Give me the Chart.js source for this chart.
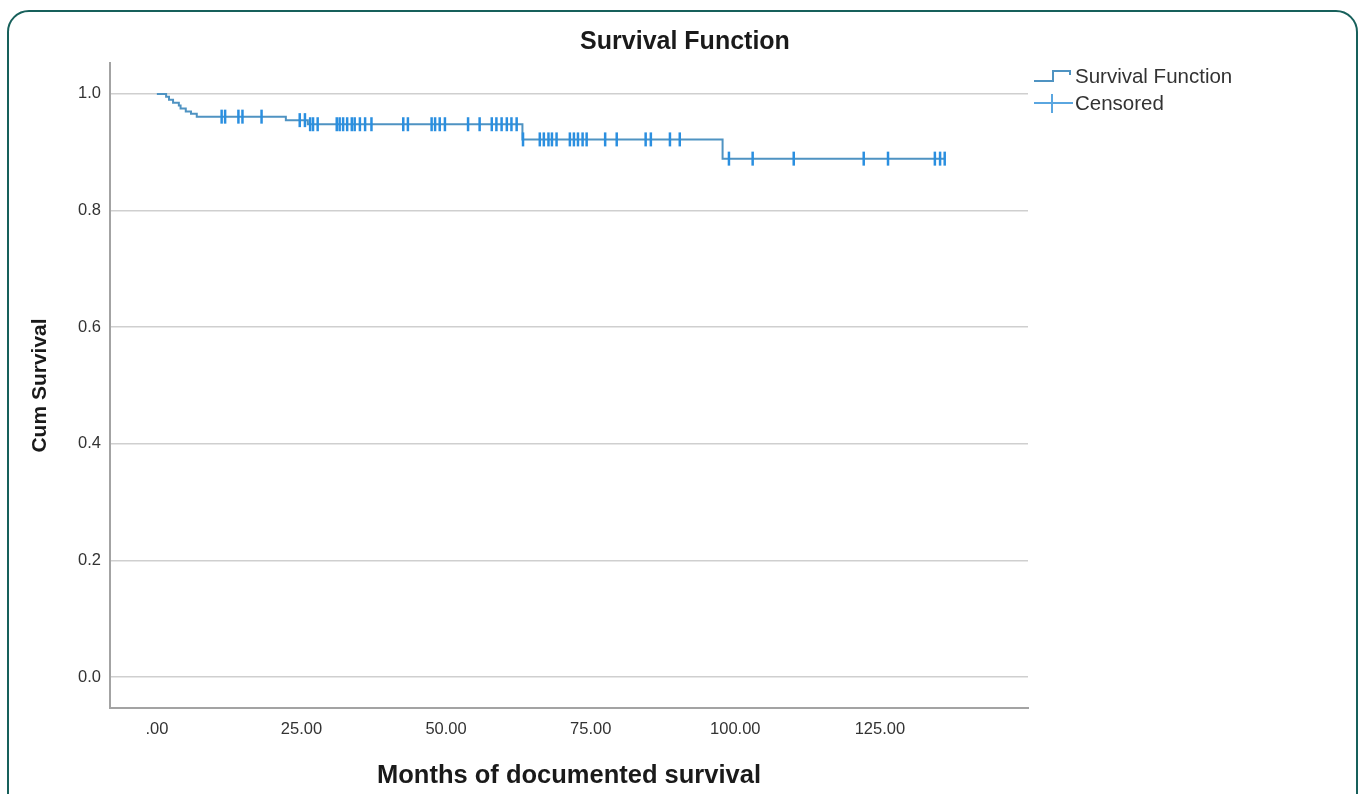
<!DOCTYPE html>
<html>
<head>
<meta charset="utf-8">
<script src="https://cdn.jsdelivr.net/npm/chart.js@4/dist/chart.umd.min.js"></script>
<style>
  html, body { margin: 0; padding: 0; background: #ffffff; overflow: hidden; }
  #wrap { position: relative; width: 1368px; height: 794px; }
  #frame { position: absolute; left: 7px; top: 10px; width: 1351px; height: 820px;
           border: 2.5px solid #17605b; border-radius: 22px; box-sizing: border-box; pointer-events: none; }
  canvas { position: absolute; left: 0; top: 0; }
</style>
</head>
<body>
<div id="wrap">
  <canvas id="c" width="1368" height="794"></canvas>
  <div id="frame"></div>
</div>
<script>
// ---- data ----
const chartTitle = "Survival Function";
const xAxisTitle = "Months of documented survival";
const yAxisTitle = "Cum Survival";
const legendLabels = ["Survival Function", "Censored"];

const eventTimes = [0, 1.6, 2.1, 2.8, 3.8, 4.1, 5.0, 5.9, 6.9, 22.3, 26.1, 63.2, 97.8, 136.2];
const survival   = [1.0, 0.995, 0.990, 0.985, 0.980, 0.975, 0.970, 0.966, 0.961, 0.955, 0.948, 0.922, 0.889, 0.889];

const censorTimes = [11.2, 11.8, 14.1, 14.8, 18.1, 24.7, 25.6, 26.5, 27.0, 27.8, 31.1,
  31.6, 32.2, 32.9, 33.7, 34.2, 35.1, 36.0, 37.1, 42.6, 43.4, 47.5, 48.1, 48.9, 49.8,
  53.8, 55.8, 57.9, 58.7, 59.6, 60.5, 61.3, 62.2, 63.3, 66.2, 66.9, 67.7, 68.3, 69.1,
  71.4, 72.1, 72.8, 73.6, 74.3, 77.5, 79.5, 84.5, 85.4, 88.7, 90.4, 98.9, 103.0,
  110.1, 122.2, 126.4, 134.5, 135.4, 136.2];

const xTicks = [0, 25, 50, 75, 100, 125];
const xTickLabels = [".00", "25.00", "50.00", "75.00", "100.00", "125.00"];
const yTicks = [0, 0.2, 0.4, 0.6, 0.8, 1.0];
const yTickLabels = ["0.0", "0.2", "0.4", "0.6", "0.8", "1.0"];

// ---- build library structures ----
const survPoints = eventTimes.map((t, i) => ({ x: t, y: survival[i] }));
function survAt(t) {
  let v = survival[0];
  for (let i = 0; i < eventTimes.length; i++) { if (eventTimes[i] <= t) v = survival[i]; }
  return v;
}
const censorPoints = censorTimes.map(t => ({ x: t, y: survAt(t) }));

const LINE_COLOR = "#4f93c2";
const CENSOR_COLOR = "#2a8fe0";
const FONT = "'Liberation Sans', Arial, sans-serif";

const decorPlugin = {
  id: "decor",
  afterDraw(chart) {
    const ctx = chart.ctx;
    const ca = chart.chartArea;
    ctx.save();
    // title
    ctx.fillStyle = "#1a1a1a";
    ctx.textAlign = "center";
    ctx.textBaseline = "middle";
    ctx.font = "bold 25px " + FONT;
    ctx.fillText(chartTitle, 685, 42);
    // x axis title
    ctx.font = "bold 25.5px " + FONT;
    ctx.fillText(xAxisTitle, (ca.left + ca.right) / 2, 776);
    // y axis title
    ctx.save();
    ctx.translate(40, (ca.top + ca.bottom) / 2);
    ctx.rotate(-Math.PI / 2);
    ctx.font = "bold 21px " + FONT;
    ctx.fillText(yAxisTitle, 0, 0);
    ctx.restore();

    // legend
    ctx.lineWidth = 2;
    ctx.strokeStyle = LINE_COLOR;
    ctx.beginPath();
    ctx.moveTo(1034, 81);
    ctx.lineTo(1053, 81);
    ctx.lineTo(1053, 71);
    ctx.lineTo(1070, 71);
    ctx.lineTo(1070, 75);
    ctx.stroke();
    ctx.strokeStyle = "#5aa6e0";
    ctx.beginPath();
    ctx.moveTo(1034, 103);
    ctx.lineTo(1073, 103);
    ctx.moveTo(1052, 94);
    ctx.lineTo(1052, 113);
    ctx.stroke();
    ctx.fillStyle = "#333333";
    ctx.textAlign = "left";
    ctx.font = "20.5px " + FONT;
    ctx.fillText(legendLabels[0], 1075, 77);
    ctx.fillText(legendLabels[1], 1075, 104);
    ctx.restore();
  }
};

new Chart(document.getElementById("c"), {
  type: "line",
  data: {
    datasets: [
      {
        label: legendLabels[1],
        type: "scatter",
        data: censorPoints,
        pointStyle: "line",
        rotation: 90,
        pointRadius: 7,
        pointHoverRadius: 7,
        pointBorderWidth: 2.5,
        borderColor: CENSOR_COLOR,
        backgroundColor: CENSOR_COLOR,
        showLine: false,
        order: 0
      },
      {
        label: legendLabels[0],
        data: survPoints,
        stepped: "before",
        borderColor: LINE_COLOR,
        borderWidth: 2,
        pointRadius: 0,
        fill: false,
        order: 1
      }
    ]
  },
  options: {
    responsive: false,
    animation: false,
    devicePixelRatio: 1,
    layout: { padding: { left: 0, top: 63, right: 340, bottom: 0 } },
    plugins: { legend: { display: false }, title: { display: false }, tooltip: { enabled: false } },
    events: [],
    scales: {
      x: {
        type: "linear",
        min: -8.1,
        max: 150.6,
        afterBuildTicks(scale) { scale.ticks = xTicks.map(v => ({ value: v })); },
        afterFit(scale) { scale.height = 86; },
        ticks: {
          callback(v) { const i = xTicks.indexOf(v); return i >= 0 ? xTickLabels[i] : ""; },
          font: { family: FONT, size: 16.5 },
          color: "#333333",
          padding: 12,
          maxRotation: 0,
          autoSkip: false
        },
        grid: { display: false, drawTicks: false },
        border: { display: true, color: "#a3a3a3", width: 2 }
      },
      y: {
        type: "linear",
        min: -0.053,
        max: 1.053,
        afterBuildTicks(scale) { scale.ticks = yTicks.map(v => ({ value: v })); },
        afterFit(scale) { scale.width = 110; },
        ticks: {
          callback(v) { const i = yTicks.findIndex(t => Math.abs(t - v) < 1e-9); return i >= 0 ? yTickLabels[i] : ""; },
          font: { family: FONT, size: 16.5 },
          color: "#333333",
          padding: 9,
          autoSkip: false
        },
        grid: { display: true, color: "#cfcfcf", lineWidth: 1.6, drawTicks: false },
        border: { display: true, color: "#a3a3a3", width: 2 }
      }
    }
  },
  plugins: [decorPlugin]
});
</script>
</body>
</html>
